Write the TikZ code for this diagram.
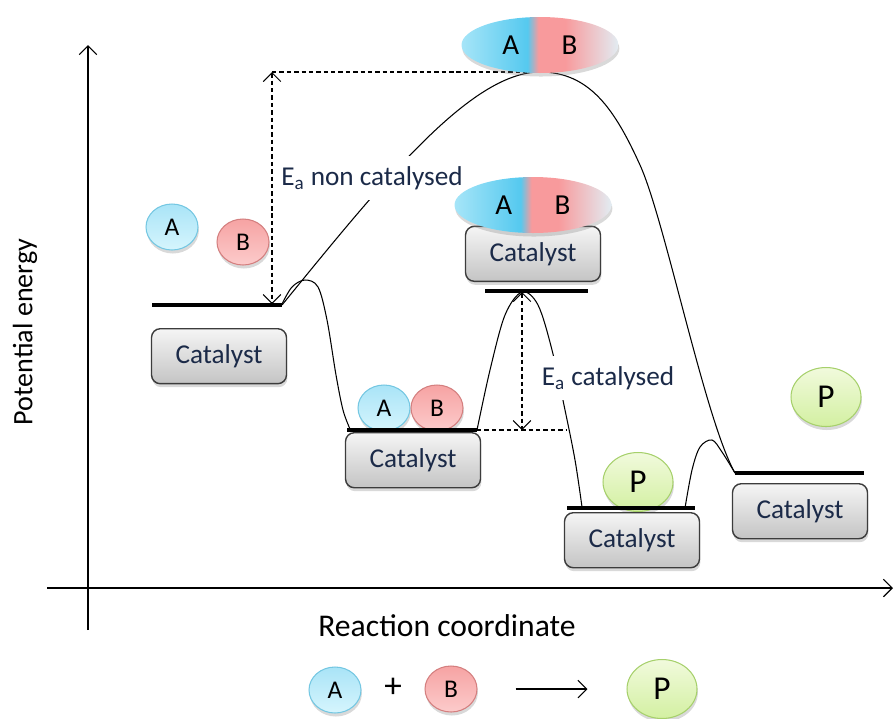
\documentclass[tikz,border=0pt]{standalone}
\usepackage{fontspec}
\setmainfont{Carlito}
\usetikzlibrary{positioning, arrows.meta, shapes.geometric, shadows}

\definecolor{aTop}{HTML}{A9E4F7}
\definecolor{aBot}{HTML}{D6F5FD}
\definecolor{aEdge}{HTML}{74C7E2}
\definecolor{bTop}{HTML}{F6A3A3}
\definecolor{bBot}{HTML}{FCCBCB}
\definecolor{bEdge}{HTML}{D47F7F}
\definecolor{pTop}{HTML}{F1FADC}
\definecolor{pBot}{HTML}{D3F0A2}
\definecolor{pEdge}{HTML}{A6D06B}
\definecolor{catTop}{HTML}{F5F5F5}
\definecolor{catBot}{HTML}{C4C4C4}
\definecolor{catEdge}{HTML}{3C3C3C}
\definecolor{catText}{HTML}{1B2A48}
\definecolor{tsLeft}{HTML}{A6E5F8}
\definecolor{tsCyan}{HTML}{55C9EF}
\definecolor{tsPink}{HTML}{F89A9C}
\definecolor{tsRight}{HTML}{E2ECF2}

\pgfdeclarehorizontalshading{transition}{100bp}{color(0bp)=(tsLeft); color(25bp)=(tsLeft); color(46bp)=(tsCyan); color(49.5bp)=(tsPink); color(58bp)=(tsPink); color(75bp)=(tsRight); color(100bp)=(tsRight)}

\begin{document}
\begin{tikzpicture}[
		x=0.02cm, y=-0.02cm,
		>={Straight Barb[length=5pt, width=10pt]},
		axis/.style={line width=0.7pt, ->},
		axislabel/.style={font=\fontsize{16}{19}\selectfont},
		level/.style={line width=2.4pt},
		profile/.style={line width=0.6pt},
		gap/.style={line width=0.6pt, dash pattern=on 2.5pt off 1.7pt, <->},
		gapline/.style={line width=0.6pt, dash pattern=on 2.5pt off 1.7pt},
		energy/.style={fill=white, inner xsep=2pt, inner ysep=6pt, text=catText, font=\fontsize{15.5}{18}\selectfont},
		catalyst/.style={rectangle, rounded corners=5pt, draw=catEdge, line width=0.8pt,
			top color=catTop, bottom color=catBot, minimum width=2.7cm, minimum height=1.1cm,
			text=catText, font=\fontsize{15.5}{18}\selectfont,
			drop shadow={opacity=0.3, shadow xshift=0.5pt, shadow yshift=-2pt}},
		mol/.style={ellipse, inner sep=0pt, minimum width=1.04cm, minimum height=0.92cm,
			font=\fontsize{14.5}{17}\selectfont, line width=0.6pt,
			drop shadow={opacity=0.3, shadow xshift=0.5pt, shadow yshift=-2pt}},
		molA/.style={mol, draw=aEdge, top color=aTop, bottom color=aBot},
		molB/.style={mol, draw=bEdge, top color=bTop, bottom color=bBot},
		molP/.style={mol, draw=pEdge, top color=pTop, bottom color=pBot,
			minimum width=1.4cm, minimum height=1.18cm, font=\fontsize{19}{22}\selectfont},
		complex/.style={ellipse, inner sep=0pt, minimum width=3.14cm, minimum height=1.12cm,
			shading=transition, font=\fontsize{16.5}{19}\selectfont,
			drop shadow={opacity=0.3, shadow xshift=0.5pt, shadow yshift=-2pt}}
		]
		\useasboundingbox (0,0) rectangle (895,718);
		
		% --- Axes ---
		\coordinate (ybot) at (88,630);
		\coordinate (ytop) at (88,45);
		\coordinate (xleft) at (47,588);
		\coordinate (xright) at (893,588);
		\draw[axis] (ybot) -- (ytop);
		\draw[axis] (xleft) -- (xright);
		\node[axislabel, rotate=90] (ylabel) at (25,332) {Potential energy};
		\node[axislabel, font=\fontsize{18}{21}\selectfont] (xlabel) at (447,626) {Reaction coordinate};
		
		% --- Energy levels ---
		\coordinate (l1w) at (152,305); \coordinate (l1e) at (282,305);
		\coordinate (l2w) at (347,430); \coordinate (l2e) at (477,430);
		\coordinate (l3w) at (485,291); \coordinate (l3e) at (588,291);
		\coordinate (l4w) at (567,508); \coordinate (l4e) at (695,508);
		\coordinate (l5w) at (735,473); \coordinate (l5e) at (864,473);
		\coordinate (l1) at (219,305);
		\coordinate (l2) at (413,430);
		\coordinate (l3) at (533,291);
		\coordinate (l4) at (632,508);
		\coordinate (l5) at (800,473);
		
		% --- Reaction profiles ---
		% non catalysed
		\coordinate (tsTop) at (540,72);
		\coordinate (ncMid) at (640,165);
		\draw[profile] (l1e) .. controls (380,185) and (470,72) .. (tsTop)
			.. controls (590,72) and (615,110) .. (ncMid)
			.. controls (665,220) and (705,420) .. (l5w);
		% catalysed
		\draw[profile, smooth, tension=0.55] plot coordinates {(282,304) (292,287) (305,280) (318,287) (327,320) (336,375) (343,410) (350,429)};
		\draw[profile, smooth, tension=0.55] plot coordinates {(477,430) (490,370) (505,315) (522,292) (538,305) (552,350) (565,410) (575,460) (582,507)};
		\draw[profile, smooth, tension=0.55] plot coordinates {(685,508) (692,470) (700,447) (712,440) (722,452) (735,473)};
		
		% --- Activation energies ---
		\coordinate (ncTop) at (272,72);
		\coordinate (ncBase) at (272,304);
		\coordinate (cTop) at (522,292);
		\coordinate (cBase) at (522,430);
		\coordinate (cEnd) at (567,430);
		\draw[gapline] (ncTop) -- (tsTop);
		\draw[gap] (ncTop) -- (ncBase);
		\draw[gapline] (l2e) -- (cEnd);
		\draw[gap] (cTop) -- (cBase);
		\node[energy] (eaNon) at (372,178) {E\textsubscript{a} non catalysed};
		\node[energy] (eaCat) at (608,378) {E\textsubscript{a} catalysed};
		
		% --- Molecules ---
		\node[molA] (freeA) at (172,227) {A};
		\node[molB] (freeB) at (243,242) {B};
		\node[molA] (adsA) at (384,408) {A};
		\node[molB] (adsB) at (437,408) {B};
		\node[molP] (adsP) at (638,482) {P};
		\node[molP] (freeP) at (826,397) {P};
		
		% bars on top of the adsorbed molecules
		\draw[level] (l1w) -- (l1e);
		\draw[level] (l2w) -- (l2e);
		\draw[level] (l3w) -- (l3e);
		\draw[level] (l4w) -- (l4e);
		\draw[level] (l5w) -- (l5e);
		
		% --- Catalyst surfaces ---
		\node[catalyst, below=0.46cm of l1] (cat1) {Catalyst};
		\node[catalyst, below=0.04cm of l2] (cat2) {Catalyst};
		\node[catalyst, above=0.18cm of l3] (cat3) {Catalyst};
		\node[catalyst, below=0.08cm of l4] (cat4) {Catalyst};
		\node[catalyst, below=0.2cm of l5] (cat5) {Catalyst};
		
		% --- Transition states ---
		\node[complex] (tsFree) at (540,45) {A\hspace{0.85cm}B};
		\node[complex] (tsCat) at (533,205) {A\hspace{0.85cm}B};
		
		% --- Overall reaction ---
		\node[molA] (eqA) at (335,690) {A};
		\node[font=\fontsize{20}{23}\selectfont] (eqPlus) at (393,688) {+};
		\node[molB] (eqB) at (451,689) {B};
		\node[molP] (eqP) at (662,689) {P};
		\draw[->, line width=0.6pt, shorten <=0.76cm, shorten >=0.78cm] (eqB) -- (eqP);
		
	\end{tikzpicture}
\end{document}
